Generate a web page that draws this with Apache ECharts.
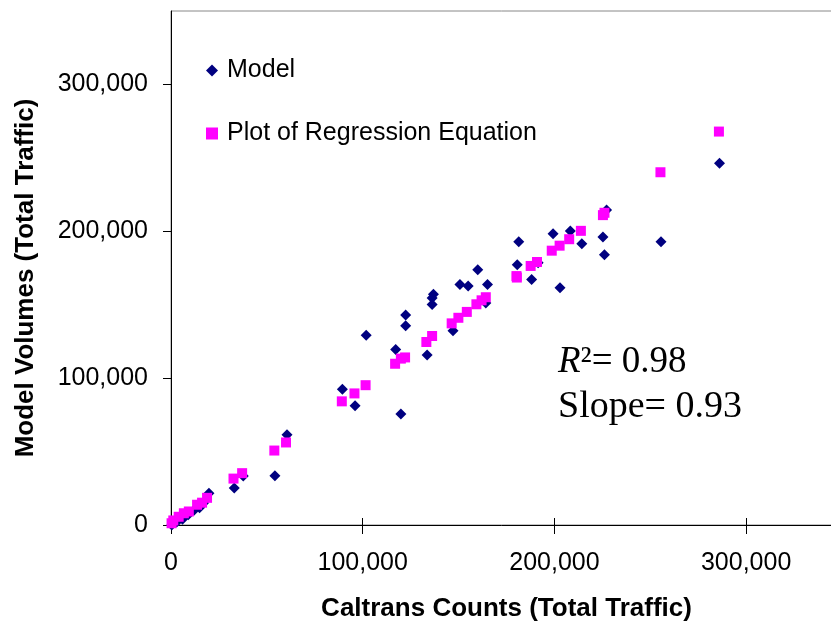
<!DOCTYPE html>
<html>
<head>
<meta charset="utf-8">
<script src="https://cdn.jsdelivr.net/npm/echarts@6/dist/echarts.min.js"></script>
<style>
  html, body { margin: 0; padding: 0; background: #fff; }
  #chart { width: 831px; height: 622px; }
</style>
</head>
<body>
<div id="chart"></div>
<script>
// Model volumes vs Caltrans counts
const modelCounts = [
  286100, 255600, 227200, 225300, 226100, 214300, 208300, 199300, 202900, 191500,
  188100, 181400, 180600, 160000, 150700, 155000, 165100, 164200, 136900, 136200,
  136200, 147100, 133600, 122400, 122400, 117200, 119900, 101800, 89400, 96000,
  60500, 54200, 33000, 37700, 19800, 14900, 17000, 12000, 9000, 6000, 3000, 400
]
const modelVolumes = [
  246300, 192900, 214500, 196100, 184000, 191500, 200200, 198400, 161600, 178600,
  167100, 192800, 177200, 173800, 163800, 162800, 163800, 151100, 157100, 154500,
  150200, 132200, 115800, 143000, 135700, 119500, 75500, 129200, 92500, 81200,
  61500, 33500, 25200, 33300, 21600, 11700, 15000, 10000, 7000, 4000, 2000, 0
]
// regression equation points
const regressionCounts = [
  285800, 255300, 226100, 225300, 213800, 207700, 202700, 198600, 190900, 187600,
  180200, 180400, 164200, 162000, 159300, 154300, 149900, 146400, 136200, 133200,
  122100, 119900, 116900, 101500, 95700, 89100, 60000, 53900, 37100, 32600,
  18800, 16200, 13600, 9300, 6700, 4000, 1200, 300
]
const regressionVolumes = [
  267900, 240200, 212600, 211000, 200300, 194600, 190200, 186800, 179100, 176400,
  169500, 168500, 155100, 153000, 150300, 145100, 141100, 137300, 128700, 124600,
  114100, 113300, 109800, 95200, 89600, 84200, 56200, 50700, 35300, 31600,
  18500, 15200, 13800, 9200, 8000, 5600, 3100, 1200
]
const tickValues = [0, 100000, 200000, 300000]
const seriesNames = ['Model', 'Plot of Regression Equation']

const zip = (xs, ys) => xs.map((x, i) => [x, ys[i]])
const fmt = v => v.toLocaleString('en-US')

const chart = echarts.init(document.getElementById('chart'))

const axisFont = {
  fontFamily: 'Liberation Sans, Arial, sans-serif',
  fontSize: 25,
  color: '#000'
}
const titleFont = {
  fontFamily: 'Liberation Sans, Arial, sans-serif',
  fontSize: 26,
  fontWeight: 'bold',
  color: '#000'
}

const option = {
  animation: false,
  backgroundColor: '#fff',
  grid: {
    left: 171,
    top: 11,
    width: 671,
    bottom: 97,
    outerBoundsMode: 'none',
    containLabel: false,
    show: true,
    borderColor: '#888',
    borderWidth: 1
  },
  legend: {
    orient: 'vertical',
    left: 201,
    top: 53,
    itemGap: 38,
    itemWidth: 12,
    itemHeight: 12,
    data: seriesNames,
    textStyle: {
      fontFamily: 'Liberation Sans, Arial, sans-serif',
      fontSize: 25,
      color: '#000',
      padding: [0, 0, 0, 4]
    }
  },
  xAxis: [
    {
      type: 'value',
      min: 0,
      max: 350000,
      interval: 100000,
      name: 'Caltrans Counts (Total Traffic)',
      nameLocation: 'middle',
      nameGap: 71,
      nameTextStyle: titleFont,
      axisLine: { lineStyle: { color: '#000', width: 1 } },
      axisTick: { length: 9, lineStyle: { color: '#000' }, customValues: tickValues },
      axisLabel: Object.assign({ margin: 26, formatter: fmt, customValues: tickValues }, axisFont),
      splitLine: { show: false }
    },
    {
      // inner half of the crossing x ticks
      type: 'value',
      position: 'bottom',
      min: 0,
      max: 350000,
      interval: 100000,
      axisLine: { show: false },
      axisTick: { inside: true, length: 7, lineStyle: { color: '#000' }, customValues: tickValues },
      axisLabel: { show: false },
      splitLine: { show: false }
    }
  ],
  yAxis: {
    type: 'value',
    min: 0,
    max: 350000,
    interval: 100000,
    name: 'Model Volumes (Total Traffic)',
    nameLocation: 'middle',
    nameGap: 132,
    nameTextStyle: Object.assign({ padding: [0, 20, 0, 0] }, titleFont),
    axisLine: { show: true, lineStyle: { color: '#000', width: 1 } },
    axisTick: { show: true, length: 8, lineStyle: { color: '#000' }, customValues: tickValues },
    axisLabel: Object.assign({ margin: 23, formatter: fmt, customValues: tickValues }, axisFont),
    splitLine: { show: false }
  },
  graphic: [
    {
      type: 'text',
      left: 558,
      top: 344,
      style: {
        text: '{i|R}{n|²= 0.98}',
        fill: '#000',
        rich: {
          i: { fontFamily: 'Liberation Serif, Times New Roman, serif', fontSize: 37, fontStyle: 'italic' },
          n: { fontFamily: 'Liberation Serif, Times New Roman, serif', fontSize: 37 }
        }
      }
    },
    {
      type: 'text',
      left: 558,
      top: 388,
      style: {
        text: 'Slope= 0.93',
        fill: '#000',
        fontFamily: 'Liberation Serif, Times New Roman, serif',
        fontSize: 38
      }
    }
  ],
  series: [
    {
      name: seriesNames[0],
      type: 'scatter',
      symbol: 'diamond',
      symbolSize: 11,
      itemStyle: { color: '#000080', opacity: 1 },
      data: zip(modelCounts, modelVolumes)
    },
    {
      name: seriesNames[1],
      type: 'scatter',
      symbol: 'rect',
      symbolSize: 10,
      itemStyle: { color: '#ff00ff', opacity: 1 },
      data: zip(regressionCounts, regressionVolumes)
    }
  ]
}

chart.setOption(option)
</script>
</body>
</html>
